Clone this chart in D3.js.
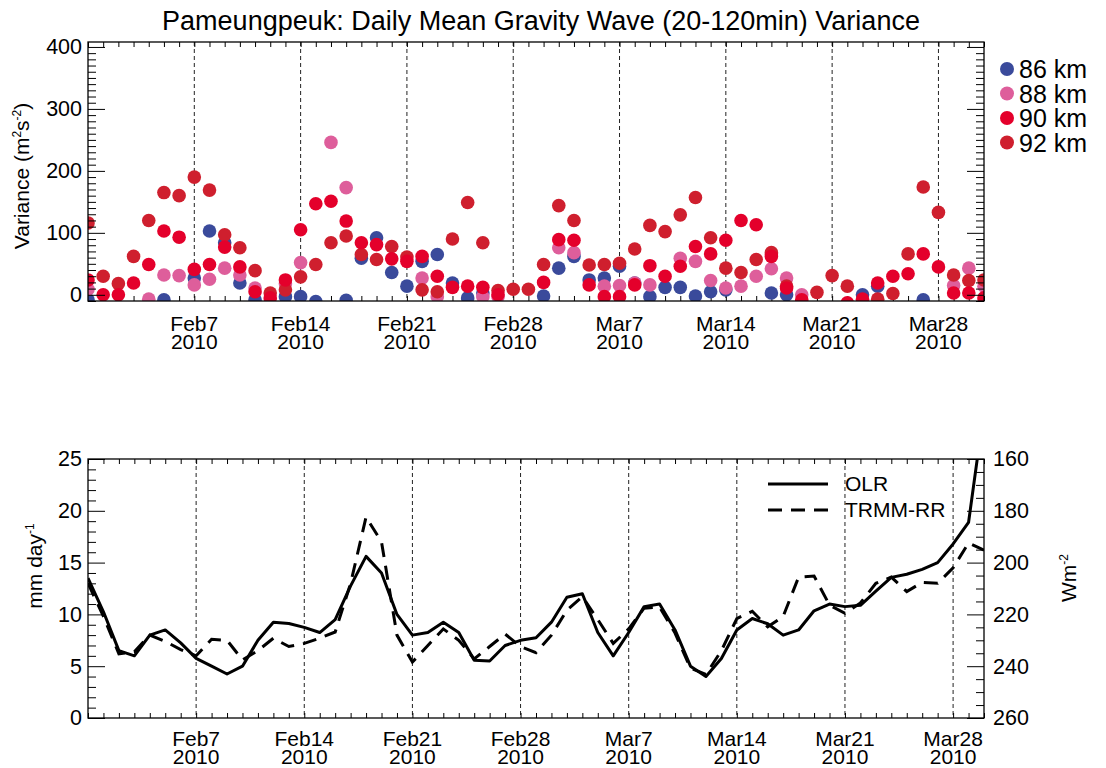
<!DOCTYPE html>
<html>
<head>
<meta charset="utf-8">
<script src="https://cdn.jsdelivr.net/npm/d3@7"></script>
<style>
  body { margin: 0; background: white; }
  svg { display: block; font-family: 'Liberation Sans', Arial, Helvetica, sans-serif; }
  .tick line { stroke: #000; }
  .tick text { fill: #000; }
</style>
</head>
<body>
<svg id="chart" width="1106" height="768"></svg>
<script>
/* global d3 */
// ---- data ----
// top panel: one value per day, 2010-01-31 .. 2010-03-31 (null = no data)
const v86 = [
  -8, null, null, null, null, -8, null, 27, 103, 84,
  19, -8, null, -3, -3, -11, null, -9, 59, 92,
  36, 14, 54, 65, 19, -5, 3, null, null, null,
  -2, 43, 62, 24, 27, 46, 19, -3, 12, 12,
  -2, 5, 8, null, null, 3, 0, null, null, null,
  null, 0, 14, null, null, -8, null, null, null, null
]
const v88 = [
  9, null, null, null, -7, 32, 31, 16, 25, 43,
  32, 11, null, 18, 52, null, 246, 173, null, null,
  null, null, 27, -3, null, null, -3, -3, null, null,
  null, 76, 68, null, 14, 15, 19, 16, null, 59,
  54, 23, 11, 14, 30, 42, 27, 0, null, null,
  null, null, null, null, null, null, null, 15, 43, 14
]
const v90 = [
  24, 0, 0, 19, 49, 103, 93, 41, 49, 77,
  45, 5, -5, 24, 105, 147, 151, 119, 84, 81,
  58, 54, 62, 30, 12, 14, 12, 0, null, null,
  20, 89, 88, 16, -3, -3, 16, 47, 30, 46,
  78, 66, 88, 120, 113, 62, 11, -8, null, null,
  -13, -7, 19, 30, 34, 66, 45, 3, 3, -5
]
const v92 = [
  116, 30, 18, 62, 120, 165, 160, 190, 169, 97,
  76, 39, 3, 8, 29, 49, 84, 95, 65, 57,
  78, 61, 8, 5, 90, 149, 84, 7, 9, 9,
  49, 144, 120, 48, 49, 51, 74, 112, 102, 129,
  157, 92, 43, 36, 57, 68, 14, null, 4, 31,
  14, null, -7, 2, 66, 174, 133, 32, 23, 24
]
const seriesNames = ['86 km', '88 km', '90 km', '92 km']
const seriesColors = ['#3a4a9b', '#de5e9b', '#e4002b', '#cf1f2e']

// bottom panel: 2010-01-31 .. 2010-03-30
const olr = [
  206, 219, 234, 236, 228, 226, 231, 237, 240, 243,
  240, 230, 223, 223.5, 225, 227, 222, 209, 197.6, 204,
  220, 228, 227, 223, 227, 237.7, 238, 232, 230, 229,
  223, 213.4, 212, 227, 236, 227, 217, 216, 226, 240,
  244, 237, 226, 221.6, 223.6, 228, 226, 218.6, 216, 217,
  216.5, 211, 205.7, 204.5, 202.6, 200, 192.8, 184.5, 141
]
const trmm = [
  13.0, 9.8, 6.2, 6.4, 8.0, 7.4, 6.6, 6.0, 7.6, 7.5,
  5.6, 6.5, 7.7, 6.9, 7.2, 7.7, 8.3, 13.0, 19.4, 17.0,
  8.0, 5.4, 7.0, 8.6, 7.5, 5.7, 6.9, 8.1, 6.9, 6.3,
  8.0, 10.4, 11.7, 9.5, 7.2, 8.6, 10.6, 10.7, 8.2, 4.8,
  4.2, 6.5, 9.6, 10.3, 8.8, 9.8, 13.6, 13.7, 10.9, 10.1,
  11.1, 13.0, 13.6, 12.2, 13.1, 13.0, 14.5, 16.9, 16.2
]

const majorDates = ['2010-02-07', '2010-02-14', '2010-02-21', '2010-02-28', '2010-03-07', '2010-03-14', '2010-03-21', '2010-03-28']
const majorLabels = ['Feb7', 'Feb14', 'Feb21', 'Feb28', 'Mar7', 'Mar14', 'Mar21', 'Mar28']
const yearLabel = '2010'

const varTicks = [0, 100, 200, 300, 400]
const rainTicks = [0, 5, 10, 15, 20, 25]
const olrTicks = [160, 180, 200, 220, 240, 260]

// ---- layout ----
const parse = d3.utcParse('%Y-%m-%d')
const days = d3.utcDay.range(parse('2010-01-31'), parse('2010-04-01'))
const majors = majorDates.map(parse)

const P1 = { l: 88, r: 984, t: 42, b: 301 }
const P2 = { l: 88, r: 984, t: 459, b: 718 }

const svg = d3.select('#chart')
svg.append('rect').attr('width', 1106).attr('height', 768).attr('fill', 'white')

const defs = svg.append('defs')
defs.append('clipPath').attr('id', 'clip1').append('rect')
  .attr('x', P1.l).attr('y', P1.t).attr('width', P1.r - P1.l).attr('height', P1.b - P1.t)
defs.append('clipPath').attr('id', 'clip2').append('rect')
  .attr('x', P2.l).attr('y', P2.t).attr('width', P2.r - P2.l).attr('height', P2.b - P2.t)

function timeAxes (x, P, dayList, dy0) {
  // dashed lines at weekly marks
  svg.append('g').selectAll('line').data(majors).join('line')
    .attr('x1', d => x(d)).attr('x2', d => x(d))
    .attr('y1', P.t).attr('y2', P.b)
    .attr('stroke', '#222').attr('stroke-width', 1).attr('stroke-dasharray', '4,3')

  const bottom = svg.append('g').attr('transform', `translate(0,${P.b})`)
    .call(d3.axisBottom(x).tickValues(dayList).tickSize(-5).tickFormat(''))
  bottom.select('.domain').remove()
  const top = svg.append('g').attr('transform', `translate(0,${P.t})`)
    .call(d3.axisTop(x).tickValues(dayList).tickSize(-5).tickFormat(''))
  top.select('.domain').remove()

  // two-line date labels: "Feb7" over "2010"
  const lab = svg.append('g').attr('font-size', 21).attr('text-anchor', 'middle')
  majors.forEach((d, i) => {
    const t = lab.append('text').attr('x', x(d)).attr('y', P.b + dy0)
    t.append('tspan').attr('x', x(d)).text(majorLabels[i])
    t.append('tspan').attr('x', x(d)).attr('dy', 18).text(yearLabel)
  })
}

function yAxis (scale, P, side, majorVals, minorVals, labels) {
  const left = side === 'left'
  const pos = left ? P.l : P.r
  const mk = left ? d3.axisLeft : d3.axisRight
  const gMin = svg.append('g').attr('transform', `translate(${pos},0)`)
    .call(mk(scale).tickValues(minorVals).tickSize(-8).tickFormat(''))
  gMin.select('.domain').remove()
  const gMaj = svg.append('g').attr('transform', `translate(${pos},0)`)
    .call(mk(scale).tickValues(majorVals).tickSize(-17).tickPadding(left ? 6 : 9)
      .tickFormat(labels ? d3.format('d') : ''))
  gMaj.select('.domain').remove()
  gMaj.selectAll('text').attr('font-size', 21.5)
}

// ---- top panel ----
const x1 = d3.scaleUtc().domain([days[0], days[days.length - 1]]).range([P1.l, P1.r])
const y1 = d3.scaleLinear().domain([-10, 408]).range([P1.b, P1.t])

timeAxes(x1, P1, days, 30)

const allSeries = [v86, v88, v90, v92]
const drawOrder = [0, 1, 3, 2]
const dots = svg.append('g').attr('clip-path', 'url(#clip1)')
drawOrder.forEach(k => {
  const pts = allSeries[k].map((v, i) => ({ d: days[i], v })).filter(p => p.v !== null)
  dots.append('g').selectAll('circle').data(pts).join('circle')
    .attr('cx', p => x1(p.d)).attr('cy', p => y1(p.v)).attr('r', 6.8)
    .attr('fill', seriesColors[k])
})

const minorVar = d3.range(-10, 409, 10).filter(v => v % 100 !== 0)
yAxis(y1, P1, 'left', varTicks, minorVar, true)
yAxis(y1, P1, 'right', varTicks, minorVar, false)

svg.append('rect').attr('x', P1.l).attr('y', P1.t)
  .attr('width', P1.r - P1.l).attr('height', P1.b - P1.t)
  .attr('fill', 'none').attr('stroke', '#000').attr('stroke-width', 1.3)

svg.append('text').attr('x', 541).attr('y', 30).attr('text-anchor', 'middle')
  .attr('font-size', 27).text('Pameungpeuk: Daily Mean Gravity Wave (20-120min) Variance')

const yl1 = svg.append('text').attr('transform', 'translate(29,176) rotate(-90)')
  .attr('text-anchor', 'middle').attr('font-size', 21)
yl1.append('tspan').text('Variance (m')
yl1.append('tspan').attr('dy', -8).attr('font-size', 12).text('2')
yl1.append('tspan').attr('dy', 8).text('s')
yl1.append('tspan').attr('dy', -8).attr('font-size', 12).text('-2')
yl1.append('tspan').attr('dy', 8).text(')')

const leg1 = svg.append('g')
seriesNames.forEach((n, k) => {
  const yy = 69 + k * 24.5
  leg1.append('circle').attr('cx', 1007).attr('cy', yy).attr('r', 7).attr('fill', seriesColors[k])
  leg1.append('text').attr('x', 1019).attr('y', yy + 9).attr('font-size', 25).text(n)
})

// ---- bottom panel ----
const days2 = days.slice(0, olr.length)
const x2 = d3.scaleUtc().domain([days2[0], days2[days2.length - 1]]).range([P2.l, P2.r])
const yRain = d3.scaleLinear().domain([0, 25]).range([P2.b, P2.t])
const yOlr = d3.scaleLinear().domain([160, 260]).range([P2.t, P2.b])

timeAxes(x2, P2, days2, 28)

const lines = svg.append('g').attr('clip-path', 'url(#clip2)')
lines.append('path').datum(olr)
  .attr('d', d3.line().x((_, i) => x2(days2[i])).y(d => yOlr(d)))
  .attr('fill', 'none').attr('stroke', '#000').attr('stroke-width', 3).attr('stroke-linejoin', 'round')
lines.append('path').datum(trmm)
  .attr('d', d3.line().x((_, i) => x2(days2[i])).y(d => yRain(d)))
  .attr('fill', 'none').attr('stroke', '#000').attr('stroke-width', 3)
  .attr('stroke-dasharray', '14,9')

yAxis(yRain, P2, 'left', rainTicks, d3.range(0, 26, 1).filter(v => v % 5 !== 0), true)
yAxis(yOlr, P2, 'right', olrTicks, d3.range(160, 261, 5).filter(v => v % 20 !== 0), true)

svg.append('rect').attr('x', P2.l).attr('y', P2.t)
  .attr('width', P2.r - P2.l).attr('height', P2.b - P2.t)
  .attr('fill', 'none').attr('stroke', '#000').attr('stroke-width', 1.3)

const yl2 = svg.append('text').attr('transform', 'translate(42,566) rotate(-90)')
  .attr('text-anchor', 'middle').attr('font-size', 21)
yl2.append('tspan').text('mm day')
yl2.append('tspan').attr('dy', -8).attr('font-size', 12).text('-1')

const yl3 = svg.append('text').attr('transform', 'translate(1076,578) rotate(-90)')
  .attr('text-anchor', 'middle').attr('font-size', 21)
yl3.append('tspan').text('Wm')
yl3.append('tspan').attr('dy', -8).attr('font-size', 12).text('-2')

const leg2 = svg.append('g')
leg2.append('line').attr('x1', 768).attr('x2', 828).attr('y1', 484).attr('y2', 484)
  .attr('stroke', '#000').attr('stroke-width', 3)
leg2.append('line').attr('x1', 768).attr('x2', 828).attr('y1', 510).attr('y2', 510)
  .attr('stroke', '#000').attr('stroke-width', 3).attr('stroke-dasharray', '14,9')
leg2.append('text').attr('x', 845).attr('y', 491).attr('font-size', 21).text('OLR')
leg2.append('text').attr('x', 845).attr('y', 517).attr('font-size', 21).text('TRMM-RR')
</script>
</body>
</html>
